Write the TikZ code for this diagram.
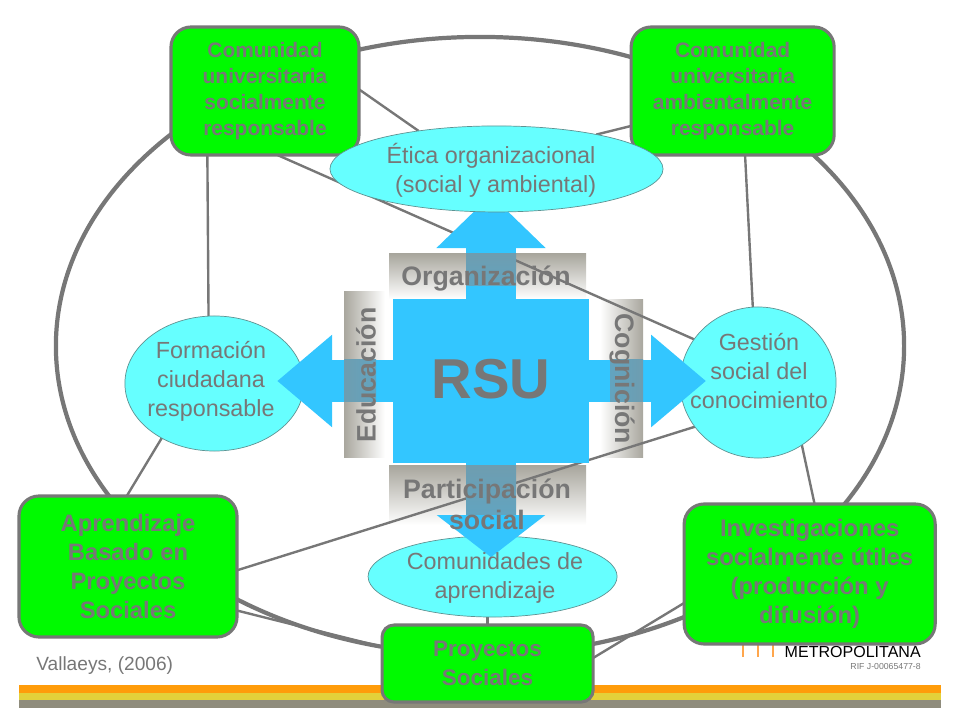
\documentclass[tikz,border=0pt]{standalone}
\usepackage{fontspec}
\setmainfont{Liberation Sans}
\usetikzlibrary{positioning, arrows.meta, shapes.geometric, backgrounds}

\definecolor{verde}{HTML}{00FA00}
\definecolor{celeste}{HTML}{66FFFF}
\definecolor{azul}{HTML}{33C6FF}
\definecolor{gris}{HTML}{777777}
\definecolor{franja}{HTML}{A9A79E}
\definecolor{cruce}{HTML}{6E9DB0}
\definecolor{crucefin}{HTML}{62A4C0}

\begin{document}
\begin{tikzpicture}[
    x=0.025cm, y=-0.025cm,
    box/.style={draw=gris, line width=2.2pt, fill=verde, rounded corners=0.5cm, outer sep=0pt, inner sep=0pt,
                align=center, text=gris, font=\bfseries},
    oval/.style={draw=gris!80!cyan, line width=0.5pt, fill=celeste, ellipse, outer sep=0pt, inner sep=0pt},
    txt/.style={align=center, text=gris, inner sep=0pt, font=\fontsize{16.6}{20.5}\selectfont},
    eje/.style={align=center, text=gris, inner sep=0pt, font=\bfseries\fontsize{19}{22}\selectfont},
    arr/.style={line width=0.5pt, draw=gris, line width=1.7pt},
    anillo/.style={draw=gris, line width=3pt, ellipse, outer sep=0pt, inner sep=0pt},
    flechah/.style={draw=azul, line width=1.05cm, -{Triangle[length=1.375cm, width=2.225cm, fill=azul]}},
    flechav/.style={draw=azul, line width=1.25cm, -{Triangle[length=#1, width=2.65cm, fill=azul]}},
    tiras/.style={inner sep=0pt, outer sep=0pt}
]
\useasboundingbox (0,0) rectangle (960,720);

% centre and ovals under the arrows
\node[fill=azul, minimum width=4.9cm, minimum height=4.1cm, outer sep=0pt, inner sep=0pt] (rsu) at (491,381) {};
\node[oval, minimum width=4.475cm, minimum height=3.375cm, left=2.225cm of rsu, yshift=-0.0625cm] (forma) {};
\node[oval, minimum width=3.9cm, minimum height=3.775cm, right=2.275cm of rsu, yshift=-0.0375cm] (gest) {};

% green boxes
\node[box, minimum width=4.7cm, minimum height=3.2cm, font=\bfseries\fontsize{14.9}{18.4}\selectfont] (cusoc) at (265,91)
    {Comunidad\\universitaria\\socialmente\\responsable};
\node[box, minimum width=5.075cm, minimum height=3.2cm, font=\bfseries\fontsize{14.9}{18.4}\selectfont, right=6.8cm of cusoc] (cuamb)
    {Comunidad\\universitaria\\ambientalmente\\responsable};
\node[box, minimum width=5.45cm, minimum height=3.525cm, font=\bfseries\fontsize{16.9}{20.5}\selectfont] (aprend) at (128,566.5)
    {Aprendizaje\\Basado en\\Proyectos\\Sociales};
\node[box, minimum width=5.275cm, minimum height=1.925cm, rounded corners=0.3cm, font=\bfseries\fontsize{16}{20.5}\selectfont,
      right=3.625cm of aprend, yshift=-2.425cm] (proy) {Proyectos\\Sociales};
\node[box, minimum width=6.275cm, minimum height=3.5cm, font=\bfseries\fontsize{17}{20.5}\selectfont,
      right=2.275cm of proy, yshift=2.2375cm] (inves) {Investigaciones\\socialmente útiles\\(producción y\\difusión)};
\node[oval, minimum width=6.225cm, minimum height=2.025cm, above=0.2cm of proy, xshift=0.125cm] (comap) {};

% arrows out of the centre
\draw[flechah, shorten >=-0.65cm] (rsu.east) -- (rsu.east -| gest.west);
\draw[flechah, shorten >=-0.67cm] (rsu.west) -- (rsu.west -| forma.east);
\draw[flechav=1.05cm, shorten >=-0.53cm] (rsu.south) -- (rsu.south |- comap.north);
\coordinate (puntan) at (491,195);
\draw[flechav=1.325cm] (rsu.north) -- (puntan);

% banners where they cross the arrows
\shade[top color=cruce, bottom color=crucefin] (466,254) rectangle (516,286);
\shade[top color=cruce, bottom color=crucefin] (466,466) rectangle (516,515);
\shade[left color=cruce, right color=crucefin] (344,360) rectangle (376,402);
\shade[left color=crucefin, right color=cruce] (610,360) rectangle (643,402);

\node[oval, minimum width=8.325cm, minimum height=2.15cm, above=2.175cm of rsu, xshift=0.1375cm] (etica) {};

% texts
\node[txt] (eticatxt) at (491,170) {Ética organizacional\\\hspace*{0.4em}(social y ambiental)};
\node[txt] (comaptxt) at (495,578) {Comunidades de\\aprendizaje};
\node[txt] (formatxt) at (211,381.5) {Formación\\ciudadana\\responsable};
\node[txt] (gesttxt) at (759,371) {Gestión\\social del\\conocimiento};
\node[text=gris, font=\bfseries\fontsize{40}{44}\selectfont, inner sep=0pt] (rsutxt) at (491,379) {RSU};
\node[eje] (orgtxt) at (486,279) {Organización};
\node[eje] (parttxt) at (487,504) {Participación\\social};
\node[eje, rotate=90] (edutxt) at (366,375) {Educación};
\node[eje, rotate=-90] (cogtxt) at (622,379) {Cognición};
\node[text=gris, inner sep=0pt, font=\fontsize{13.6}{16}\selectfont, anchor=west] (autor) at (36,666) {Vallaeys, (2006)};

\begin{scope}[on background layer]
% bottom bars
\fill[tiras, fill={rgb,255:red,255;green,156;blue,10}] (19,685) rectangle (941,693);
\fill[tiras, fill={rgb,255:red,227;green,209;blue,58}] (19,693) rectangle (941,700);
\fill[tiras, fill={rgb,255:red,143;green,140;blue,124}] (19,700) rectangle (941,708);

% logo
\draw[orange!70, line width=0.8pt] (743,645) -- (743,657) (758,645) -- (758,657) (773,645) -- (773,657);
\node[anchor=base east, inner sep=0pt, font=\fontsize{11.4}{12}\selectfont] (logo) at (921,657) {METROPOLITANA};
\node[anchor=base east, inner sep=0pt, text=gris, font=\fontsize{6.2}{7}\selectfont] (rif) at (921,669) {RIF J-00065477-8};

% shaded banners
\shade[top color=franja, bottom color=white] (389,254) rectangle (586,299);
\shade[top color=franja, bottom color=white] (389,466) rectangle (586,525);
\shade[left color=franja, right color=white] (344,292) rectangle (385,458);
\shade[left color=white, right color=franja] (600,300) rectangle (643,458);

% the big ring
\node[anillo, minimum width=21.2cm, minimum height=15.45cm] (ring) at (480,346) {};

% lines between the nodes
\draw[arr] (cusoc.228) -- (forma.95.5);
\draw[arr] (forma.226) -- (aprend.91.6);
\draw[arr] (cusoc.-79.4) -- (gest.146.8);
\draw[arr] (gest.215.6) -- (aprend.-2);
\draw[arr] (cusoc.1.2) -- (etica.154.4);
\draw[arr] (cuamb.199.5) -- (etica.19.2);
\draw[arr] (cuamb.-79) -- (gest.94.5);
\draw[arr] (gest.-55.4) -- (inves.86.3);
\draw[arr] (aprend.-22.7) -- (proy.171.6);
\draw[arr] (comap.263.7) -- (comap.263.7 |- proy.north);
\draw[arr] (proy.3.5) -- (inves.193);
\end{scope}
\end{tikzpicture}
\end{document}
